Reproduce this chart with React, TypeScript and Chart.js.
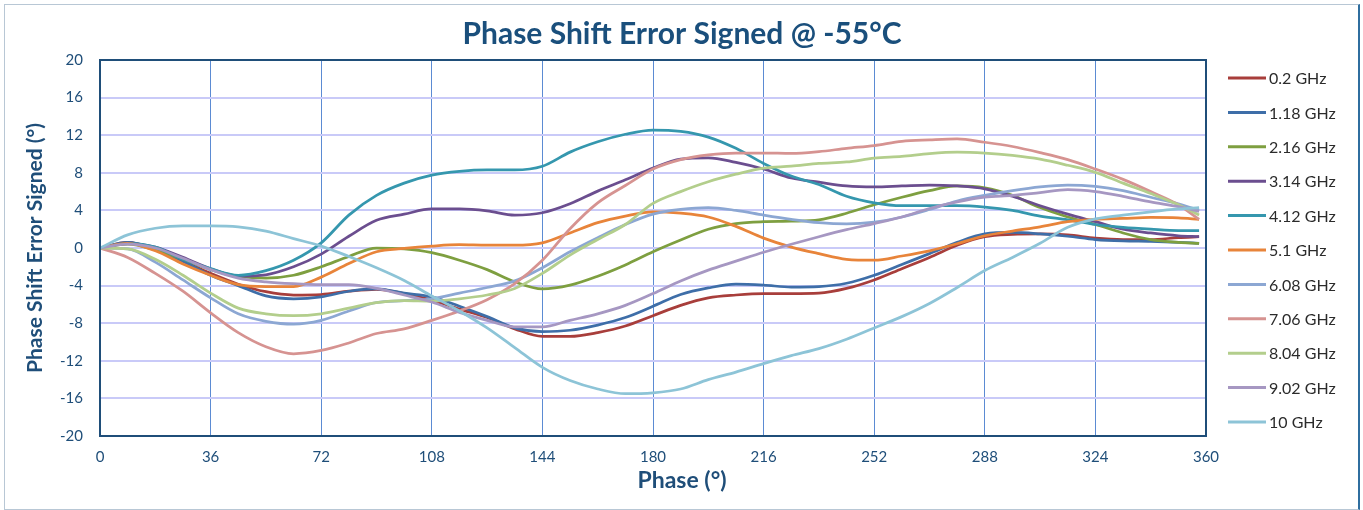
import React, { useEffect, useRef } from "react";
import { Chart, registerables } from "chart.js";

Chart.register(...registerables);

// ---- data ----
const chartTitle = "Phase Shift Error Signed @ -55°C";
const xAxisTitle = "Phase (°)";
const yAxisTitle = "Phase Shift Error Signed (°)";

const phaseDeg = [0, 9, 18, 27, 36, 45, 54, 63, 72, 81, 90, 99, 108, 117, 126, 135, 144, 153, 162, 171, 180, 189, 198, 207, 216, 225, 234, 243, 252, 261, 270, 279, 288, 297, 306, 315, 324, 333, 342, 351, 357.75];

const seriesLabels = ["0.2 GHz", "1.18 GHz", "2.16 GHz", "3.14 GHz", "4.12 GHz", "5.1 GHz", "6.08 GHz", "7.06 GHz", "8.04 GHz", "9.02 GHz", "10 GHz"];

const ghz0_2 = [0, 0.6, -0.15, -1.4, -2.7, -3.85, -4.65, -5.0, -4.95, -4.6, -4.4, -4.85, -5.55, -6.5, -7.4, -8.6, -9.4, -9.4, -9.0, -8.3, -7.2, -6.1, -5.3, -5.0, -4.85, -4.85, -4.8, -4.3, -3.4, -2.2, -1.0, 0.3, 1.2, 1.45, 1.5, 1.4, 1.05, 0.9, 0.9, 1.1, 1.2];
const ghz1_18 = [0, 0.6, -0.1, -1.4, -2.9, -4.0, -5.1, -5.4, -5.2, -4.6, -4.35, -4.8, -5.2, -6.2, -7.3, -8.5, -8.9, -8.75, -8.2, -7.4, -6.2, -4.95, -4.25, -3.85, -3.95, -4.15, -4.1, -3.75, -2.9, -1.75, -0.6, 0.6, 1.5, 1.65, 1.5, 1.25, 0.9, 0.75, 0.7, 0.6, 0.5];
const ghz2_16 = [0, 0.4, -0.2, -1.2, -2.3, -3.0, -3.2, -2.9, -2.0, -0.9, 0.0, -0.1, -0.5, -1.3, -2.3, -3.6, -4.35, -3.95, -3.0, -1.8, -0.4, 0.85, 2.0, 2.6, 2.8, 2.85, 3.0, 3.7, 4.6, 5.4, 6.1, 6.6, 6.4, 5.6, 4.3, 3.3, 2.5, 1.6, 0.9, 0.6, 0.5];
const ghz3_14 = [0, 0.5, 0.1, -1.0, -2.2, -3.0, -2.85, -2.0, -0.65, 1.25, 2.95, 3.6, 4.15, 4.15, 3.95, 3.5, 3.75, 4.7, 6.05, 7.25, 8.5, 9.45, 9.6, 9.1, 8.4, 7.45, 7.0, 6.6, 6.5, 6.6, 6.7, 6.6, 6.3, 5.5, 4.5, 3.6, 2.8, 2.0, 1.6, 1.3, 1.2];
const ghz4_12 = [0, 0.5, 0.1, -1.2, -2.2, -2.9, -2.4, -1.3, 0.55, 3.5, 5.6, 6.9, 7.75, 8.15, 8.3, 8.3, 8.7, 10.2, 11.3, 12.1, 12.55, 12.4, 11.8, 10.6, 9.0, 7.65, 6.75, 5.5, 4.8, 4.5, 4.5, 4.5, 4.35, 4.0, 3.4, 3.0, 2.5, 2.2, 2.0, 1.85, 1.85];
const ghz5_1 = [0, 0.5, -0.3, -1.7, -2.9, -3.9, -4.1, -4.1, -3.1, -1.65, -0.4, -0.05, 0.2, 0.35, 0.3, 0.3, 0.55, 1.6, 2.7, 3.4, 3.85, 3.7, 3.3, 2.3, 1.05, 0.1, -0.6, -1.2, -1.3, -0.85, -0.3, 0.45, 1.3, 1.8, 2.25, 2.8, 3.05, 3.15, 3.25, 3.2, 3.05];
const ghz6_08 = [0, -0.1, -1.5, -3.4, -5.3, -7.0, -7.8, -8.1, -7.7, -6.7, -5.8, -5.6, -5.4, -4.8, -4.2, -3.5, -2.1, -0.4, 1.1, 2.5, 3.6, 4.1, 4.3, 4.0, 3.5, 3.05, 2.7, 2.57, 2.75, 3.3, 4.1, 5.0, 5.6, 6.1, 6.5, 6.7, 6.55, 6.1, 5.4, 4.7, 4.0];
const ghz7_06 = [0, -1.0, -2.7, -4.6, -6.9, -9.0, -10.5, -11.25, -10.9, -10.1, -9.1, -8.6, -7.7, -6.7, -5.5, -3.8, -1.3, 2.05, 4.8, 6.65, 8.4, 9.4, 9.9, 10.1, 10.1, 10.06, 10.25, 10.6, 10.9, 11.35, 11.5, 11.6, 11.25, 10.8, 10.15, 9.4, 8.4, 7.3, 6.0, 4.6, 3.05];
const ghz8_04 = [0, -0.1, -1.2, -2.9, -4.8, -6.4, -7.0, -7.2, -7.0, -6.4, -5.8, -5.6, -5.65, -5.4, -5.0, -4.3, -2.7, -0.75, 0.9, 2.5, 4.75, 6.0, 7.05, 7.85, 8.5, 8.7, 9.0, 9.15, 9.55, 9.75, 10.05, 10.2, 10.1, 9.85, 9.45, 8.8, 8.05, 6.9, 5.8, 4.6, 3.5];
const ghz9_02 = [0, 0.4, 0.0, -1.1, -2.3, -3.2, -3.6, -3.8, -3.9, -3.9, -4.3, -5.0, -5.75, -6.85, -7.7, -8.4, -8.4, -7.7, -7.0, -6.1, -4.85, -3.5, -2.35, -1.4, -0.45, 0.4, 1.2, 1.95, 2.6, 3.3, 4.2, 4.9, 5.4, 5.6, 5.9, 6.2, 6.0, 5.5, 4.9, 4.4, 3.9];
const ghz10 = [0, 1.4, 2.1, 2.35, 2.35, 2.25, 1.8, 1.0, 0.2, -0.9, -2.1, -3.45, -5.1, -6.7, -8.5, -10.6, -12.7, -14.1, -15.0, -15.5, -15.4, -15.0, -14.0, -13.2, -12.3, -11.45, -10.7, -9.7, -8.5, -7.3, -5.9, -4.2, -2.4, -1.0, 0.5, 2.2, 3.1, 3.5, 3.85, 4.15, 4.3];

const xTickValues = [0, 36, 72, 108, 144, 180, 216, 252, 288, 324, 360];
const yTickValues = [-20, -16, -12, -8, -4, 0, 4, 8, 12, 16, 20];

// ---- styles ----
const seriesColors = ["#A83E3B", "#3E6EA8", "#7E9F40", "#6B4E8F", "#3597AE", "#E8843A", "#8CA7D3", "#D69391", "#B3CE8C", "#A697C2", "#8DC4D7"];
const FONT = "Lato, 'Open Sans', 'DejaVu Sans', sans-serif";
const DARK_BLUE = "#1F4E79";
const TITLE_BLUE = "#1A4F7C";

export default function App() {
  const canvasRef = useRef<HTMLCanvasElement | null>(null);

  useEffect(() => {
    document.body.style.margin = "0";
    const canvas = canvasRef.current;
    if (!canvas) return;
    const series = [ghz0_2, ghz1_18, ghz2_16, ghz3_14, ghz4_12, ghz5_1, ghz6_08, ghz7_06, ghz8_04, ghz9_02, ghz10];

    const decor = {
      id: "decor",
      afterDraw(chart: any) {
        const { ctx, chartArea: a } = chart;
        ctx.save();
        ctx.strokeStyle = DARK_BLUE;
        ctx.lineWidth = 2;
        ctx.strokeRect(a.left, a.top, a.right - a.left, a.bottom - a.top);

        ctx.fillStyle = TITLE_BLUE;
        ctx.textAlign = "center";
        ctx.textBaseline = "middle";
        ctx.font = `bold 30px ${FONT}`;
        ctx.fillText(chartTitle, 682, 34);
        ctx.font = `bold 23px ${FONT}`;
        ctx.fillStyle = DARK_BLUE;
        ctx.fillText(xAxisTitle, 682, 481);

        // legend
        ctx.textAlign = "left";
        ctx.font = `16px ${FONT}`;
        seriesLabels.forEach((lab, i) => {
          const y = 78 + i * 34.4;
          ctx.strokeStyle = seriesColors[i];
          ctx.lineWidth = 3;
          ctx.beginPath();
          ctx.moveTo(1228, y);
          ctx.lineTo(1266, y);
          ctx.stroke();
          ctx.fillStyle = "#2b2b2b";
          ctx.fillText(lab, 1269, y + 1);
        });
        ctx.restore();
      },
    };

    const chart = new Chart(canvas, {
      type: "line",
      data: {
        datasets: series.map((vals, i) => ({
          label: seriesLabels[i],
          data: vals.map((v, j) => ({ x: phaseDeg[j], y: v })),
          borderColor: seriesColors[i],
          backgroundColor: seriesColors[i],
          borderWidth: 2.75,
          pointRadius: 0,
          fill: false,
          cubicInterpolationMode: "monotone" as const,
          order: series.length - i,
        })),
      },
      options: {
        responsive: false,
        animation: false,
        layout: { padding: { top: 60, right: 157, bottom: 0, left: 0 } },
        plugins: {
          legend: { display: false },
          title: { display: false },
          tooltip: { enabled: false },
        },
        scales: {
          x: {
            type: "linear",
            min: 0,
            max: 360,
            afterBuildTicks: (s: any) => {
              s.ticks = xTickValues.map((v) => ({ value: v }));
            },
            ticks: { padding: 12, color: DARK_BLUE, font: { family: FONT, size: 15 } },
            grid: { color: "#5B8BD3", lineWidth: 1, drawTicks: false },
            border: { display: false },
            afterFit: (s: any) => {
              s.height = 74;
            },
          },
          y: {
            type: "linear",
            min: -20,
            max: 20,
            afterBuildTicks: (s: any) => {
              s.ticks = yTickValues.map((v) => ({ value: v }));
            },
            ticks: { padding: 17, color: DARK_BLUE, font: { family: FONT, size: 15 } },
            grid: { color: "#C9CAF8", lineWidth: 2, drawTicks: false },
            border: { display: false },
            title: {
              display: true,
              text: yAxisTitle,
              color: DARK_BLUE,
              font: { family: FONT, size: 21, weight: "bold" },
              padding: { top: 23, bottom: 0 },
            },
            afterFit: (s: any) => {
              s.width = 100;
            },
          },
        },
      },
      plugins: [decor],
    });
    return () => chart.destroy();
  }, []);

  return (
    <div style={{ position: "relative", width: 1363, height: 510, background: "#fff" }}>
      <canvas ref={canvasRef} width={1363} height={510} style={{ position: "absolute", left: 0, top: 0 }} />
      <div
        style={{
          position: "absolute",
          left: 4,
          top: 4,
          width: 1353,
          height: 504,
          borderLeft: "1px solid #B8C7D5",
          borderTop: "1px solid #B8C7D5",
          borderBottom: "1px solid #B8C7D5",
          borderRight: "2px solid #2F6E9F",
          pointerEvents: "none",
        }}
      />
    </div>
  );
}
